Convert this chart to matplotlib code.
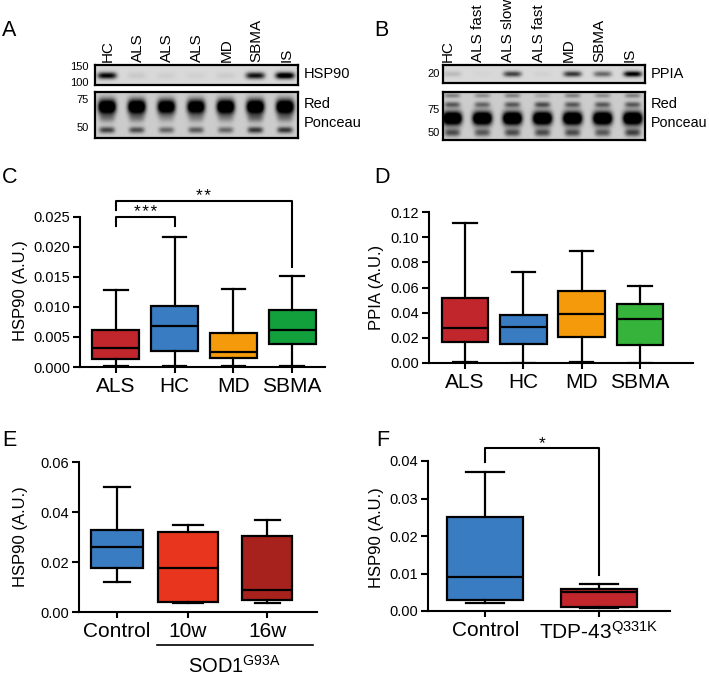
#!/usr/bin/env python3
"""HSP90 / PPIA blots and box plots (panels A-F) redrawn with matplotlib."""

import matplotlib
matplotlib.use("Agg")
import matplotlib.pyplot as plt
import numpy as np

plt.rcParams["font.family"] = ["Liberation Sans", "DejaVu Sans"]
plt.rcParams["mathtext.fontset"] = "custom"
plt.rcParams["mathtext.rm"] = "Liberation Sans"
plt.rcParams["mathtext.it"] = "Liberation Sans:italic"
plt.rcParams["mathtext.bf"] = "Liberation Sans:bold"

W, H = 709, 676

# ---- blot band intensities (0 = none, 1 = saturated) ----
A_LANES = ["HC", "ALS", "ALS", "ALS", "MD", "SBMA", "IS"]
A_HSP90 = [0.85, 0.06, 0.04, 0.03, 0.05, 0.80, 1.0]
A_PONC_MAIN = [1.3, 1.3, 1.2, 1.2, 1.3, 1.3, 1.3]
A_PONC_MID = [0.25, 0.25, 0.15, 0.2, 0.2, 0.3, 0.25]
A_PONC_LOW = [0.55, 0.5, 0.4, 0.45, 0.4, 0.6, 0.6]
A_MARKERS = ["150", "100", "75", "50"]

B_LANES = ["HC", "ALS fast", "ALS slow", "ALS fast", "MD", "SBMA", "IS"]
B_PPIA = [0.12, 0.02, 0.6, 0.03, 0.65, 0.45, 0.9]
B_PONC_TOP = [0.3, 0.25, 0.3, 0.15, 0.3, 0.25, 0.3]
B_PONC_UP = [0.45, 0.4, 0.45, 0.5, 0.45, 0.45, 0.45]
B_PONC_MAIN = [1.4, 1.4, 1.4, 1.4, 1.4, 1.4, 1.4]
B_PONC_LOW = [0.5, 0.45, 0.5, 0.5, 0.5, 0.45, 0.55]
B_MARKERS = ["20", "75", "50"]

# ---- box plot summaries: whisker low, q1, median, q3, whisker high ----
C_GROUPS = ["ALS", "HC", "MD", "SBMA"]
C_LO = [0.0001, 0.0002, 0.0001, 0.0002]
C_Q1 = [0.0013, 0.0027, 0.0015, 0.0039]
C_MED = [0.0031, 0.0068, 0.0025, 0.0061]
C_Q3 = [0.0061, 0.0102, 0.0056, 0.0095]
C_HI = [0.0128, 0.0217, 0.0129, 0.0152]

D_GROUPS = ["ALS", "HC", "MD", "SBMA"]
D_LO = [0.001, 0.0, 0.001, 0.0]
D_Q1 = [0.017, 0.015, 0.021, 0.014]
D_MED = [0.028, 0.029, 0.039, 0.035]
D_Q3 = [0.052, 0.038, 0.057, 0.047]
D_HI = [0.111, 0.072, 0.089, 0.061]

E_GROUPS = ["Control", "10w", "16w"]
E_LO = [0.012, 0.0035, 0.0037]
E_Q1 = [0.0175, 0.0042, 0.005]
E_MED = [0.026, 0.0175, 0.0087]
E_Q3 = [0.033, 0.032, 0.0303]
E_HI = [0.050, 0.035, 0.037]

F_GROUPS = ["Control", r"TDP-43$^{\mathrm{Q331K}}$"]
F_LO = [0.0022, 0.0008]
F_Q1 = [0.003, 0.0012]
F_MED = [0.009, 0.005]
F_Q3 = [0.025, 0.006]
F_HI = [0.037, 0.0072]

RED = "#c0262b"
BLUE = "#3a7cc1"
ORANGE = "#f59a0a"
GREEN = "#12a03c"
GREEN_D = "#36b33a"
RED_10W = "#e8361e"
RED_16W = "#a8221d"

fig = plt.figure(figsize=(W / 100, H / 100), dpi=100)


def px_axes(x0, y0, x1, y1):
    return fig.add_axes([x0 / W, 1 - y1 / H, (x1 - x0) / W, (y1 - y0) / H])


def ftext(x, y, s, **kw):
    fig.text(x / W, 1 - y / H, s, **kw)


def draw_blot(ax, bands, x0, x1, bg):
    """bands: list of (intensities, y centre 0-1, y sigma, x half width)."""
    xs = np.linspace(x0, x1, 400)
    ys = np.linspace(0, 1, 90)
    X, Y = np.meshgrid(xs, ys)
    img = np.full(X.shape, bg)
    for vals, yc, sy, sx in bands:
        for i, v in enumerate(vals):
            img += v * np.exp(-((X - i) / sx) ** 4 - ((Y - yc) / sy) ** 2)
    ax.imshow(np.clip(img, 0, 1), cmap="gray_r", vmin=0, vmax=1,
              extent=(x0, x1, 0, 1), origin="lower", aspect="auto",
              interpolation="bilinear")
    ax.set_xticks([])
    ax.set_yticks([])
    for s in ax.spines.values():
        s.set_linewidth(1.6)


def draw_boxes(ax, lo, q1, med, q3, hi, colors, positions, widths):
    stats = [dict(whislo=a, q1=b, med=c, q3=d, whishi=e)
             for a, b, c, d, e in zip(lo, q1, med, q3, hi)]
    bp = ax.bxp(stats, positions=positions, widths=widths,
                capwidths=[w * 0.5 for w in widths],
                patch_artist=True, showfliers=False, manage_ticks=False,
                boxprops=dict(linewidth=1.6, edgecolor="black"),
                medianprops=dict(color="black", linewidth=1.6),
                whiskerprops=dict(color="black", linewidth=1.6),
                capprops=dict(color="black", linewidth=1.6))
    for patch, c in zip(bp["boxes"], colors):
        patch.set_facecolor(c)


def style_axis(ax, yticks, fmt, positions, labels, xlim):
    for s in ["top", "right"]:
        ax.spines[s].set_visible(False)
    for s in ["left", "bottom"]:
        ax.spines[s].set_linewidth(1.5)
    ax.set_ylim(yticks[0], yticks[-1])
    ax.set_yticks(yticks, [fmt.format(v) for v in yticks])
    ax.set_xticks(positions, labels)
    ax.set_xlim(*xlim)
    ax.tick_params(axis="y", length=5, width=1.5, labelsize=10.5, pad=2)
    ax.tick_params(axis="x", length=4, width=1.5, labelsize=15, pad=3)


def bracket(ax, x0, x1, y0, ytop, y1, label):
    ax.plot([x0, x0, x1, x1], [y0, ytop, ytop, y1], color="black",
            linewidth=1.5, clip_on=False)
    ax.text((x0 + x1) / 2, ytop, label, ha="center", va="baseline",
            fontsize=12.5)


STARS = "\u200a".join

# ---------------- panel A ----------------
ax = px_axes(95, 65, 298, 85)
draw_blot(ax, [(A_HSP90, 0.47, 0.17, 0.32)], -0.4, 6.43, 0.15)
ax = px_axes(95, 92, 298, 138)
draw_blot(ax, [(A_PONC_MAIN, 0.68, 0.16, 0.30),
               (A_PONC_MID, 0.43, 0.10, 0.26),
               (A_PONC_LOW, 0.17, 0.07, 0.26)], -0.4, 6.43, 0.2)
for i, lab in enumerate(A_LANES):
    ftext(107 + i * 29.7 + 1, 62, lab, rotation=90, ha="center", va="bottom",
          fontsize=11)
for lab, y in zip(A_MARKERS, [67, 83, 100, 128]):
    ftext(89, y, lab, ha="right", va="center", fontsize=8)
ftext(304, 74, "HSP90", ha="left", va="center", fontsize=10.5)
ftext(304, 104, "Red", ha="left", va="center", fontsize=10.5)
ftext(304, 123, "Ponceau", ha="left", va="center", fontsize=10.5)

# ---------------- panel B ----------------
ax = px_axes(443, 65, 645, 83)
draw_blot(ax, [(B_PPIA, 0.5, 0.16, 0.30)], -0.3, 6.4, 0.15)
ax = px_axes(443, 92, 645, 140)
draw_blot(ax, [(B_PONC_TOP, 0.93, 0.05, 0.26),
               (B_PONC_UP, 0.74, 0.06, 0.26),
               (B_PONC_MAIN, 0.45, 0.14, 0.32),
               (B_PONC_LOW, 0.15, 0.08, 0.26)], -0.3, 6.4, 0.2)
for i, lab in enumerate(B_LANES):
    ftext(452 + i * 30.2 - 4, 62, lab, rotation=90, ha="center", va="bottom",
          fontsize=11)
for lab, y in zip(B_MARKERS, [74, 110, 133]):
    ftext(440, y, lab, ha="right", va="center", fontsize=8)
ftext(651, 74, "PPIA", ha="left", va="center", fontsize=10.5)
ftext(651, 104, "Red", ha="left", va="center", fontsize=10.5)
ftext(651, 123, "Ponceau", ha="left", va="center", fontsize=10.3)

# ---------------- panel C ----------------
ax = px_axes(80, 216.7, 325, 367)
pos = [0, 1, 2, 3]
draw_boxes(ax, C_LO, C_Q1, C_MED, C_Q3, C_HI, [RED, BLUE, ORANGE, GREEN],
           pos, [0.8] * 4)
style_axis(ax, [0, 0.005, 0.010, 0.015, 0.020, 0.025], "{:.3f}", pos,
           C_GROUPS, (-0.61, 3.56))
bracket(ax, 0, 1, 0.0234, 0.0250, 0.0234, STARS("***"))
bracket(ax, 0, 3, 0.0261, 0.0276, 0.0166, STARS("**"))
ftext(21, 291, "HSP90 (A.U.)", rotation=90, ha="center", va="center",
      fontsize=12)

# ---------------- panel D ----------------
ax = px_axes(429, 212, 693, 363)
draw_boxes(ax, D_LO, D_Q1, D_MED, D_Q3, D_HI, [RED, BLUE, ORANGE, GREEN_D],
           pos, [0.8] * 4)
style_axis(ax, [0, 0.02, 0.04, 0.06, 0.08, 0.10, 0.12], "{:.2f}", pos,
           D_GROUPS, (-0.62, 3.91))
ftext(377, 287, "PPIA (A.U.)", rotation=90, ha="center", va="center",
      fontsize=12)

# ---------------- panel E ----------------
ax = px_axes(79, 462, 317, 612)
pos_e = [0, 1, 2.12]
draw_boxes(ax, E_LO, E_Q1, E_MED, E_Q3, E_HI, [BLUE, RED_10W, RED_16W],
           pos_e, [0.73, 0.84, 0.70])
style_axis(ax, [0, 0.02, 0.04, 0.06], "{:.2f}", pos_e, E_GROUPS,
           (-0.53, 2.82))
ax.plot([0.57, 2.77], [-0.22, -0.22], color="black", linewidth=1.2,
        transform=ax.get_xaxis_transform(), clip_on=False)
ax.text(1.66, -0.405, r"SOD1$^{\mathrm{G93A}}$", ha="center", va="baseline",
        fontsize=14.5, transform=ax.get_xaxis_transform())
ftext(21, 537, "HSP90 (A.U.)", rotation=90, ha="center", va="center",
      fontsize=12)

# ---------------- panel F ----------------
ax = px_axes(428, 461, 670, 611)
pos_f = [0, 1]
draw_boxes(ax, F_LO, F_Q1, F_MED, F_Q3, F_HI, [BLUE, RED], pos_f, [0.67, 0.67])
style_axis(ax, [0, 0.01, 0.02, 0.03, 0.04], "{:.2f}", pos_f, F_GROUPS,
           (-0.505, 1.63))
bracket(ax, 0, 1, 0.0398, 0.0434, 0.0096, "*")
ftext(377, 538, "HSP90 (A.U.)", rotation=90, ha="center", va="center",
      fontsize=12)

# panel letters
for letter, x, y in [("A", 2, 31), ("B", 374, 31), ("C", 2, 177),
                     ("D", 374, 177), ("E", 2, 440), ("F", 376, 440)]:
    ftext(x, y, letter, ha="left", va="center", fontsize=15.5)

fig.savefig("out.png", dpi=100)
